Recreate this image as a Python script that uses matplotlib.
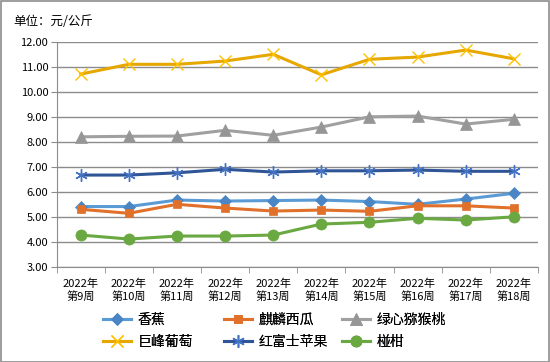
import numpy as np
import matplotlib
matplotlib.use("Agg")
import matplotlib.pyplot as plt
from matplotlib.patches import Rectangle

plt.rcParams['font.family'] = ['Noto Sans CJK SC', 'DejaVu Sans']

# -------------------------------
# Data
# -------------------------------
weeks = ["2022年\n第9周", "2022年\n第10周", "2022年\n第11周", "2022年\n第12周", "2022年\n第13周",
         "2022年\n第14周", "2022年\n第15周", "2022年\n第16周", "2022年\n第17周", "2022年\n第18周"]

banana = [5.43, 5.43, 5.69, 5.65, 5.67, 5.69, 5.63, 5.52, 5.73, 5.96]
watermelon = [5.32, 5.16, 5.52, 5.37, 5.25, 5.29, 5.24, 5.46, 5.46, 5.37]
kiwi = [8.22, 8.24, 8.25, 8.48, 8.28, 8.61, 9.02, 9.05, 8.73, 8.92]
grape = [10.73, 11.12, 11.12, 11.25, 11.52, 10.70, 11.32, 11.41, 11.69, 11.34]
apple = [6.69, 6.69, 6.78, 6.92, 6.81, 6.86, 6.86, 6.89, 6.84, 6.84]
mandarin = [4.29, 4.13, 4.25, 4.25, 4.29, 4.73, 4.80, 4.96, 4.89, 5.02]

# name, values, line colour, marker, marker size, marker colour, marker edge width
series = [
    ("香蕉", banana, "#5B9BD5", "D", 6, "#4A86C5", 0.5),
    ("麒麟西瓜", watermelon, "#E0702A", "s", 6, "#E0702A", 0.5),
    ("绿心猕猴桃", kiwi, "#A0A0A0", "^", 8, "#969696", 0.5),
    ("巨峰葡萄", grape, "#E6A800", "x", 8, "#FFC000", 1.0),
    ("红富士苹果", apple, "#2F5597", (6, 2, 0), 9, "#4472C4", 1.0),
    ("椪柑", mandarin, "#6AA842", "o", 8, "#6AA842", 0.5),
]

fig = plt.figure(figsize=(5.5, 3.62), dpi=100)
fig.patches.append(Rectangle((0.001, 0.001), 0.997, 0.996, transform=fig.transFigure,
                             fill=False, edgecolor="#8C8C8C", linewidth=1.2))

ax = fig.add_axes([0.103, 0.2616, 0.875, 0.6215])
x = np.arange(len(weeks))

lines = []
for name, vals, color, marker, ms, mcolor, mew in series:
    ln, = ax.plot(x, vals, color=color, linewidth=2.2, marker=marker, markersize=ms,
                  markeredgewidth=mew, markeredgecolor=mcolor, markerfacecolor=mcolor,
                  label=name)
    lines.append(ln)

ax.set_xlim(-0.5, len(weeks) - 0.5)
ax.set_ylim(3, 12)
ax.set_yticks(np.arange(3, 12.01, 1))
ax.set_yticklabels([f"{v:.2f}" for v in np.arange(3, 12.01, 1)], fontsize=8)
ax.yaxis.grid(True, color="#8C8C8C", linewidth=1)
ax.set_axisbelow(True)

ax.set_xticks(x)
ax.set_xticklabels(weeks, fontsize=8, linespacing=1.3)
ax.set_xticks(np.arange(-0.5, len(weeks)), minor=True)
ax.tick_params(axis="x", which="major", length=0, pad=8)
ax.tick_params(axis="x", which="minor", length=4, color="#8C8C8C")
ax.tick_params(axis="y", length=4, color="#8C8C8C", pad=2)

for side in ("top", "right"):
    ax.spines[side].set_visible(False)
for side in ("left", "bottom"):
    ax.spines[side].set_color("#8C8C8C")

fig.text(0.024, 0.94, "单位：元/公斤", fontsize=9, ha="left", va="center")

# legend: three columns at fixed positions, row-wise order like the original
col_x = [103 / 550, 224 / 550, 342 / 550]
for i, cx in enumerate(col_x):
    leg = fig.legend([lines[i], lines[i + 3]], [series[i][0], series[i + 3][0]],
                     loc="upper left", bbox_to_anchor=(cx, 1 - 313 / 362), frameon=False,
                     fontsize=10, handlelength=2.0, handletextpad=0.5, labelspacing=0.55,
                     borderpad=0, borderaxespad=0)
    fig.add_artist(leg)

fig.savefig("out.png", dpi=100)
